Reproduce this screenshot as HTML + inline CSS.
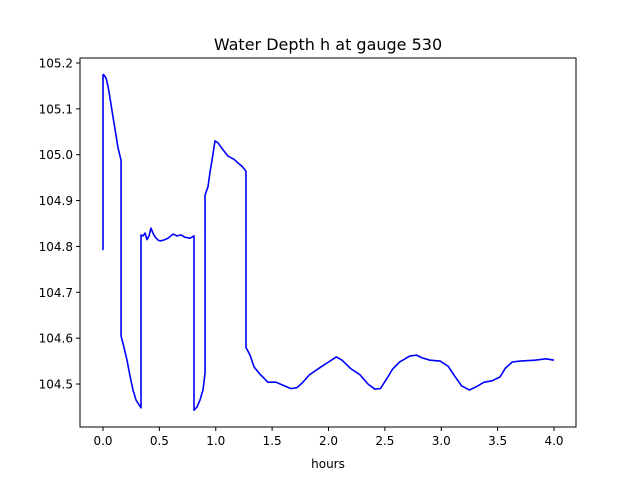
<!DOCTYPE html>
<html><head><meta charset="utf-8"><style>
body{margin:0;background:#fff;}
svg{display:block;font-family:"DejaVu Sans","Liberation Sans",sans-serif;}
</style></head><body>
<svg id="chart" width="640" height="480">
<rect width="640" height="480" fill="#fff"/>
<text x="328" y="50" font-size="16" text-anchor="middle">Water Depth h at gauge 530</text>
<g id="plot"></g>
<rect x="80" y="58" width="496" height="369" fill="none" stroke="#000" stroke-width="1"/>
<text x="328" y="468" font-size="12" text-anchor="middle">hours</text>
</svg>
<script>
const hours=[0,0,0.005,0.027,0.044,0.071,0.089,0.115,0.133,0.16,0.16,0.186,0.213,0.24,0.266,0.293,0.337,0.337,0.355,0.373,0.39,0.408,0.426,0.443,0.461,0.488,0.506,0.541,0.577,0.621,0.656,0.692,0.727,0.772,0.807,0.807,0.834,0.86,0.887,0.905,0.905,0.931,0.949,0.967,0.993,1.02,1.037,1.073,1.108,1.162,1.197,1.233,1.268,1.268,1.304,1.34,1.39,1.463,1.534,1.61,1.667,1.72,1.77,1.83,1.92,2.0,2.07,2.12,2.2,2.28,2.35,2.41,2.46,2.51,2.57,2.63,2.72,2.78,2.83,2.9,2.99,3.06,3.12,3.18,3.25,3.31,3.38,3.45,3.52,3.57,3.63,3.7,3.83,3.93,4.0];
const depth=[104.792,105.174,105.175,105.167,105.15,105.11,105.082,105.043,105.015,104.988,104.605,104.58,104.552,104.517,104.487,104.465,104.448,104.825,104.823,104.829,104.815,104.823,104.84,104.829,104.821,104.814,104.812,104.814,104.818,104.827,104.823,104.825,104.82,104.818,104.823,104.443,104.45,104.465,104.487,104.524,104.912,104.93,104.962,104.988,105.03,105.026,105.02,105.008,104.997,104.99,104.982,104.975,104.964,104.58,104.563,104.537,104.522,104.504,104.504,104.496,104.49,104.492,104.503,104.52,104.535,104.548,104.559,104.552,104.533,104.52,104.5,104.489,104.49,104.509,104.533,104.548,104.561,104.563,104.557,104.552,104.55,104.539,104.517,104.496,104.487,104.494,104.504,104.507,104.515,104.535,104.548,104.55,104.552,104.555,104.552];
const xTicks=[0,0.5,1,1.5,2,2.5,3,3.5,4];
const xTickLabels=["0.0","0.5","1.0","1.5","2.0","2.5","3.0","3.5","4.0"];
const yTicks=[104.5,104.6,104.7,104.8,104.9,105.0,105.1,105.2];
const yTickLabels=["104.5","104.6","104.7","104.8","104.9","105.0","105.1","105.2"];
const xs=v=>103+v*112.75;
const ys=v=>63+(105.2-v)*458.6;
const NS="http://www.w3.org/2000/svg";
const g=document.getElementById('plot');
function mk(t,a){const e=document.createElementNS(NS,t);for(const k in a)e.setAttribute(k,a[k]);g.appendChild(e);return e;}
xTicks.forEach((t,i)=>{
 const l=mk('line',{x1:xs(t),x2:xs(t),y1:427,y2:431,stroke:'#000'});
 
 
 const tx=mk('text',{x:xs(t),y:445,'font-size':12,'text-anchor':'middle'});
 tx.textContent=xTickLabels[i];
 
 
});
yTicks.forEach((t,i)=>{
 const l=mk('line',{x1:76,x2:80,y1:ys(t),y2:ys(t),stroke:'#000'});
 
 
 const tx=mk('text',{x:73,y:ys(t)+4.5,'font-size':12,'text-anchor':'end'});
 tx.textContent=yTickLabels[i];
 
 
});
const pts=hours.map((h,i)=>xs(h).toFixed(2)+','+ys(depth[i]).toFixed(2)).join(' ');
const line=mk('polyline',{points:pts,fill:'none',stroke:'#0000ff','stroke-width':1.6,'stroke-linejoin':'round'});


</script>
</body></html>
